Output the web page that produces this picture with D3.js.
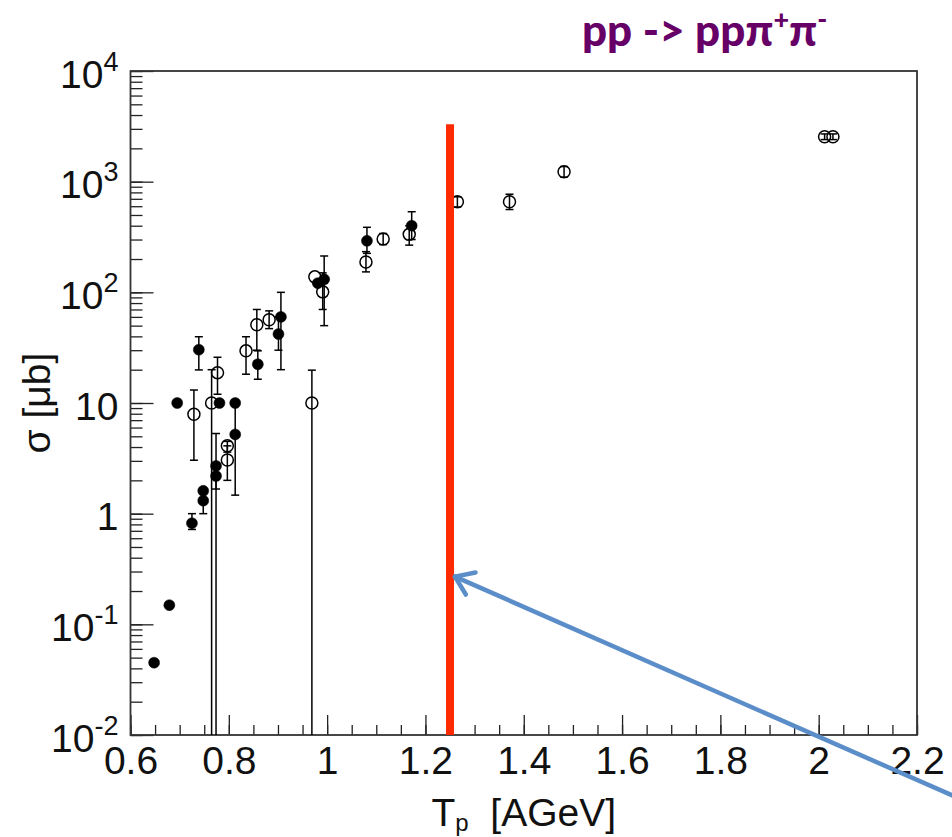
<!DOCTYPE html>
<html>
<head>
<meta charset="utf-8">
<script src="https://cdn.jsdelivr.net/npm/d3@7"></script>
<style>
  body { margin: 0; background: #fff; }
  svg { display: block; }
  .tick text { font-family: "Liberation Sans", Arial, sans-serif; }
</style>
</head>
<body>
<script>
// tick labels
var xTicks = [0.6, 0.8, 1, 1.2, 1.4, 1.6, 1.8, 2, 2.2];
var xTickLabels = ["0.6", "0.8", "1", "1.2", "1.4", "1.6", "1.8", "2", "2.2"];
var yTicks = [1e-2, 1e-1, 1, 10, 1e2, 1e3, 1e4];
var yTickBase = ["10", "10", "1", "10", "10", "10", "10"];
var yTickExp = ["-2", "-1", "", "", "2", "3", "4"];

// filled markers: T_p, sigma, error low, error high (null = no bar, 0 = runs off the bottom)
var filledT     = [0.648, 0.679, 0.695, 0.725, 0.739, 0.748, 0.748, 0.774, 0.774, 0.781, 0.813, 0.813, 0.859, 0.901, 0.906, 0.981, 0.994, 1.081, 1.172];
var filledSigma = [0.045, 0.149, 10,    0.82,  30.3,  1.61,  1.31,  2.7,   2.19,  10,    10,    5.2,   22.4,  42,    60,    121,   131,   292,   400];
var filledLo    = [null,  null,  null,  0.72,  19.9,  null,  1.0,   0,     1.67,  null,  null,  1.47,  16.4,  30,    20,    null,  50,    225,   300];
var filledHi    = [null,  null,  null,  1.0,   39.7,  null,  1.61,  5.3,   2.7,   null,  null,  10,    29.6,  60,    100,   null,  213,   387,   535];

// open markers
var openT     = [0.729, 0.765, 0.777, 0.797, 0.797, 0.835, 0.857, 0.882, 0.969, 0.975, 0.991, 1.079, 1.114, 1.167, 1.265, 1.371, 1.482, 2.012, 2.029];
var openSigma = [7.9,   10,    18.8,  4.1,   3.05,  29.6,  51,    56.5,  10,    138,   101,   188,   303,   334,   658,   658,   1227,  2548,  2548];
var openLo    = [3.04,  0,     12,    3.6,   2.0,   18.2,  30,    47,    0,     null,  70,    153,   270,   267,   590,   560,   1100,  2400,  2400];
var openHi    = [13.1,  20,    25.9,  4.5,   4.1,   39.7,  70,    68,    19.8,  null,  150,   233,   340,   400,   730,   770,   1370,  2700,  2700];

// threshold line and arrow annotation
var thresholdT = 1.25;
var thresholdRange = [0.01, 3300];
var arrowTip = [1.26, 0.27];
var arrowTail = [2.35, 0.002];

var W = 952, H = 837;
var margin = {top: 71, right: 35, bottom: 102, left: 130.5},
    width = W - margin.left - margin.right,
    height = H - margin.top - margin.bottom;

var xScale = d3.scaleLinear().domain([0.6, 2.2]).range([0, width]);
var yScale = d3.scaleLog().domain([1e-2, 1e4]).range([height, 0]);

var svg = d3.select("body").append("svg")
    .attr("width", W)
    .attr("height", H);

var g = svg.append("g")
    .attr("transform", "translate(" + margin.left + "," + margin.top + ")");

var axisFont = "Liberation Sans, Arial, sans-serif";

// minor x ticks (inside frame)
g.append("g")
    .attr("transform", "translate(0," + height + ")")
    .call(d3.axisBottom(xScale).ticks(32).tickSize(-10).tickFormat(""))
    .call(function(s) { s.select(".domain").remove(); })
    .selectAll("line").attr("stroke", "#222").attr("stroke-width", 1.3);

// major x ticks + labels
var xAx = g.append("g")
    .attr("transform", "translate(0," + height + ")")
    .call(d3.axisBottom(xScale).tickValues(xTicks).tickSize(-20).tickPadding(11)
      .tickFormat(function(d, i) { return xTickLabels[i]; }));
xAx.select(".domain").remove();
xAx.selectAll("line").attr("stroke", "#222").attr("stroke-width", 1.3);
xAx.selectAll("text")
    .attr("font-size", 39)
    .attr("fill", "#111")
    .style("font-family", axisFont);

// minor y ticks
g.append("g")
    .call(d3.axisLeft(yScale).tickValues(yScale.ticks()).tickSize(-12).tickFormat(""))
    .call(function(s) { s.select(".domain").remove(); })
    .selectAll("line").attr("stroke", "#222").attr("stroke-width", 1.3);

// major y ticks + labels
var yAx = g.append("g")
    .call(d3.axisLeft(yScale).tickValues(yTicks).tickSize(-23).tickPadding(12).tickFormat(""));
yAx.select(".domain").remove();
yAx.selectAll("line").attr("stroke", "#222").attr("stroke-width", 1.3);
yAx.selectAll(".tick text").each(function(d, i) {
  var t = d3.select(this)
      .attr("font-size", 39)
      .attr("fill", "#111")
      .attr("dy", null)
      .attr("y", 16)
      .style("font-family", axisFont);
  t.append("tspan").text(yTickBase[i]);
  if (yTickExp[i]) {
    t.append("tspan").attr("font-size", 27).attr("dy", -17).text(yTickExp[i]);
  }
});

// frame
g.append("rect")
    .attr("width", width)
    .attr("height", height)
    .attr("fill", "none")
    .attr("stroke", "#333")
    .attr("stroke-width", 1.8);

// error bars
function yClamp(v) { return (v <= 1e-2) ? height : yScale(v); }

function drawSeries(T, S, Lo, Hi, filled) {
  var rows = T.map(function(t, i) { return {t: t, s: S[i], lo: Lo[i], hi: Hi[i]}; });
  var eb = g.append("g").attr("stroke", "#000").attr("stroke-width", 1.5);
  rows.filter(function(d) { return d.lo !== null; }).forEach(function(d) {
    var x = xScale(d.t);
    eb.append("line")
        .attr("x1", x).attr("x2", x)
        .attr("y1", yClamp(d.lo)).attr("y2", yScale(d.hi));
    eb.append("line")
        .attr("x1", x - 4).attr("x2", x + 4)
        .attr("y1", yScale(d.hi)).attr("y2", yScale(d.hi));
    if (d.lo > 1e-2) {
      eb.append("line")
          .attr("x1", x - 4).attr("x2", x + 4)
          .attr("y1", yScale(d.lo)).attr("y2", yScale(d.lo));
    }
  });
  g.append("g").selectAll("circle")
    .data(rows)
    .enter().append("circle")
      .attr("cx", function(d) { return xScale(d.t); })
      .attr("cy", function(d) { return yScale(d.s); })
      .attr("r", filled ? 5.5 : 6)
      .attr("fill", filled ? "#000" : "none")
      .attr("stroke", "#000")
      .attr("stroke-width", filled ? 0.5 : 1.5);
}

drawSeries(openT, openSigma, openLo, openHi, false);
drawSeries(filledT, filledSigma, filledLo, filledHi, true);

// red threshold line
g.append("line")
    .attr("x1", xScale(thresholdT)).attr("x2", xScale(thresholdT))
    .attr("y1", yScale(thresholdRange[0])).attr("y2", yScale(thresholdRange[1]))
    .attr("stroke", "#ff2a00")
    .attr("stroke-width", 8);

// blue arrow
var tip = [xScale(arrowTip[0]), yScale(arrowTip[1])],
    tail = [xScale(arrowTail[0]), yScale(arrowTail[1])];
var ang = Math.atan2(tail[1] - tip[1], tail[0] - tip[0]);
var arrow = g.append("g")
    .attr("stroke", "#5b8ec9")
    .attr("stroke-width", 4.5)
    .attr("stroke-linecap", "round")
    .attr("fill", "none");
arrow.append("line")
    .attr("x1", tail[0]).attr("y1", tail[1])
    .attr("x2", tip[0]).attr("y2", tip[1]);
[-0.61, 0.61].forEach(function(a) {
  arrow.append("line")
      .attr("x1", tip[0]).attr("y1", tip[1])
      .attr("x2", tip[0] + 21 * Math.cos(ang + a))
      .attr("y2", tip[1] + 21 * Math.sin(ang + a));
});

// axis titles
var xt = svg.append("text")
    .attr("x", margin.left + width / 2)
    .attr("y", 826)
    .attr("text-anchor", "middle")
    .attr("font-size", 39)
    .attr("fill", "#111")
    .style("font-family", axisFont);
xt.append("tspan").text("T");
xt.append("tspan").attr("font-size", 24).attr("dy", 5).text("p");
xt.append("tspan").attr("dy", -5).text("\u00a0 [AGeV]");

svg.append("text")
    .attr("transform", "translate(50,403) rotate(-90)")
    .attr("text-anchor", "middle")
    .attr("font-size", 39)
    .attr("fill", "#111")
    .style("font-family", axisFont)
    .text("σ [μb]");

// title
var title = svg.append("text")
    .attr("x", 582)
    .attr("y", 46)
    .attr("font-size", 44)
    .attr("font-weight", "900")
    .attr("fill", "#660066")
    .style("font-family", "Lato, 'Open Sans', sans-serif");
title.append("tspan").text("pp -> ppπ");
title.append("tspan").attr("font-size", 27).attr("dy", -17).text("+");
title.append("tspan").attr("dy", 17).text("π");
title.append("tspan").attr("font-size", 27).attr("dy", -17).text("-");
</script>
</body>
</html>
